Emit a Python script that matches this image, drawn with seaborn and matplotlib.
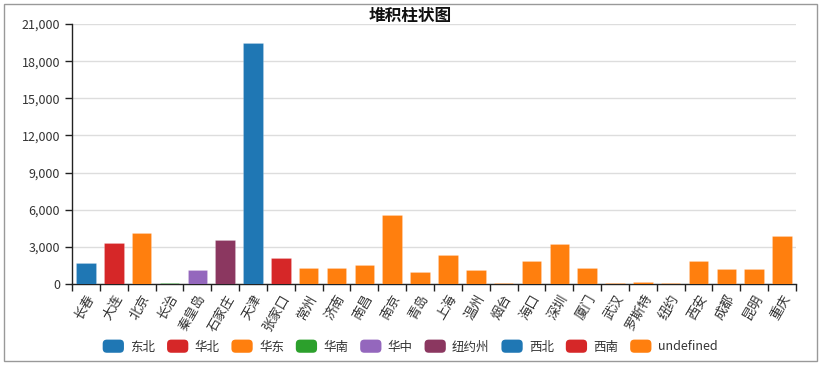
import pandas as pd
import matplotlib
matplotlib.use('Agg')
import matplotlib.pyplot as plt
import seaborn as sns
from matplotlib.patches import FancyBboxPatch, Rectangle, Patch
from matplotlib.legend_handler import HandlerPatch
from matplotlib.ticker import FuncFormatter, FixedLocator

# data
cities = ['长春', '大连', '北京', '长治', '秦皇岛', '石家庄', '天津', '张家口',
          '常州', '济南', '南昌', '南京', '青岛', '上海', '温州', '烟台', '海口',
          '深圳', '厦门', '武汉', '罗斯特', '纽约', '西安', '成都', '昆明', '重庆']
values = [1670, 3350, 4100, 50, 1135, 3590, 19450, 2105,
          1270, 1295, 1565, 5565, 1000, 2375, 1100, 105, 1865,
          3245, 1320, 50, 190, 80, 1890, 1215, 1215, 3890]
city_region = ['东北', '华北', '华东', '华南', '华中', '纽约州', '西北', '西南'] + ['undefined'] * 18
regions = ['东北', '华北', '华东', '华南', '华中', '纽约州', '西北', '西南', 'undefined']
colors = ['#1f77b4', '#d62728', '#ff7f0e', '#2ca02c', '#9467bd', '#8b3760',
          '#1f77b4', '#d62728', '#ff7f0e']

df = pd.DataFrame({'city': cities, 'value': values, 'region': city_region})
palette = dict(zip(regions, colors))

sns.set_style('white')
plt.rcParams['font.family'] = ['Noto Sans CJK SC', 'DejaVu Sans']

fig = plt.figure(figsize=(8.23, 3.68), dpi=100)
ax = fig.add_axes([72 / 823, 84 / 368, 724 / 823, 260 / 368])

sns.barplot(data=df, x='city', y='value', hue='region', hue_order=regions,
            palette=palette, saturation=1, dodge=False, width=0.7, legend=False,
            edgecolor=(1, 1, 1, 0.3), linewidth=0.4, ax=ax, zorder=3)

ax.set_xlim(-0.5, len(cities) - 0.5)
ax.set_ylim(0, 21000)
ax.set_yticks(range(0, 21001, 3000))
ax.yaxis.set_major_formatter(FuncFormatter(lambda v, p: f'{int(v):,}'))
ax.yaxis.grid(True, color='#dddddd', lw=1, zorder=0)
ax.set_axisbelow(True)

ax.set_xticks(range(len(cities)))
ax.set_xticklabels(cities, rotation=60, ha='right', rotation_mode='anchor')
ax.xaxis.set_minor_locator(FixedLocator([i - 0.5 for i in range(len(cities) + 1)]))
ax.tick_params(axis='x', which='major', length=0, pad=6, labelsize=9.5, labelcolor='#333333')
ax.tick_params(axis='x', which='minor', length=5, width=1, color='#222222', bottom=True)
ax.tick_params(axis='y', length=5, width=1, color='#222222', labelsize=9, labelcolor='#333333', left=True)
ax.set_xlabel('')
ax.set_ylabel('')

sns.despine(ax=ax)
for s in ['left', 'bottom']:
    ax.spines[s].set_color('#222222')
    ax.spines[s].set_linewidth(1)

fig.text(410 / 823, 1 - 16 / 368, '堆积柱状图', ha='center', va='center',
         fontsize=12, fontweight='bold', color='#111111')


class RoundHandler(HandlerPatch):
    def create_artists(self, legend, orig_handle, xdescent, ydescent, width, height, fontsize, trans):
        p = FancyBboxPatch((-xdescent, -ydescent - 1), width, height + 2,
                           boxstyle='round,pad=0,rounding_size=3',
                           facecolor=orig_handle.get_facecolor(), edgecolor='none',
                           transform=trans)
        return [p]


handles = [Patch(facecolor=c, label=r) for r, c in zip(regions, colors)]
fig.legend(handles=handles, loc='center', bbox_to_anchor=(410 / 823, 1 - 347 / 368),
           ncol=len(regions), frameon=False, fontsize=9, labelcolor='#333333',
           handlelength=1.7, handleheight=0.9, handletextpad=0.5, columnspacing=0.95,
           handler_map={Patch: RoundHandler()})

fig.patches.append(Rectangle((4 / 823, 7 / 368), 813 / 823, 357 / 368,
                             transform=fig.transFigure, fill=False,
                             edgecolor='#999999', lw=1))

fig.savefig('out.png', dpi=100)
